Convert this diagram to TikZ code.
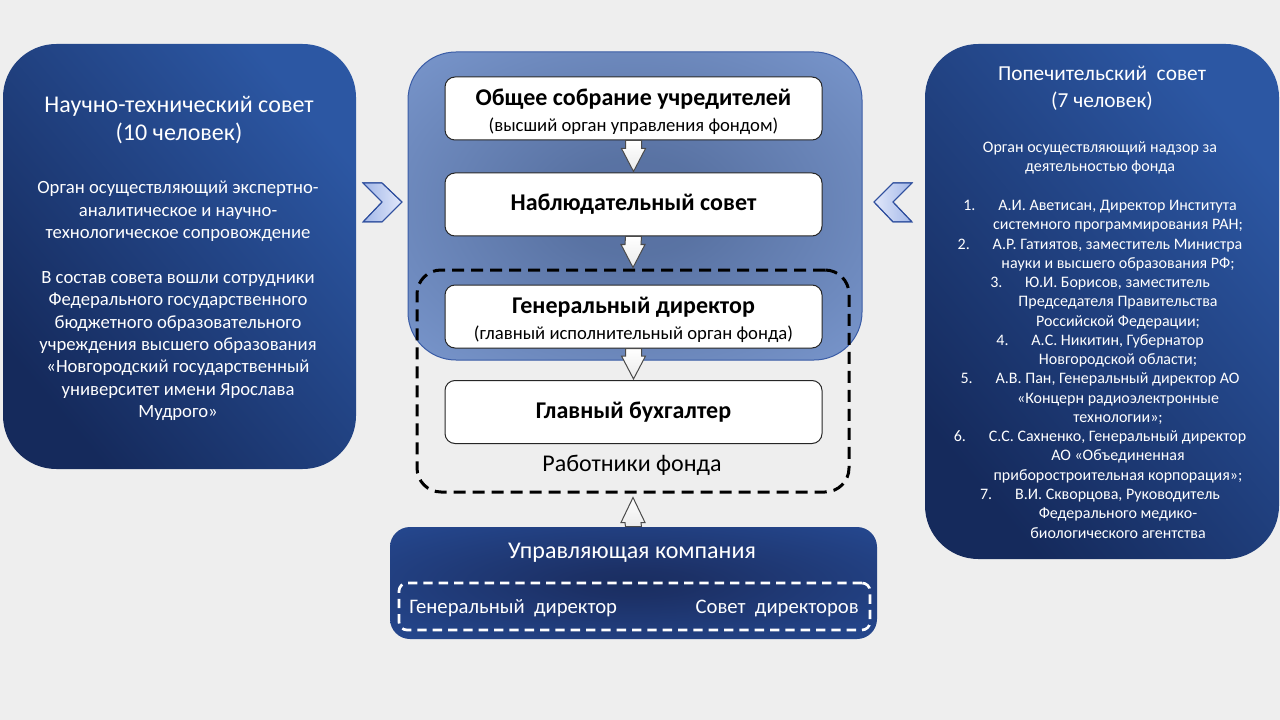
\documentclass[tikz,border=0pt]{standalone}
\usepackage{fontspec}
\setmainfont{Carlito}
\usetikzlibrary{calc}
\definecolor{bgc}{HTML}{EEEEEE}
\definecolor{sidelight}{HTML}{2C57A3}
\definecolor{sidedark}{HTML}{152A5C}
\definecolor{centeredge}{HTML}{3A5CA6}
\definecolor{chevfill}{HTML}{A2B7E8}
\definecolor{chevlight}{HTML}{E2E8FA}
\definecolor{chevline}{HTML}{2F4F9E}
\definecolor{arrline}{HTML}{4A4A4A}
\pgfdeclareradialshading{centerrad}{\pgfpoint{0bp}{0bp}}{rgb(0bp)=(0.34,0.44,0.63); rgb(8bp)=(0.35,0.45,0.64); rgb(46bp)=(0.52,0.64,0.86); rgb(72bp)=(0.55,0.67,0.89)}
\pgfdeclareradialshading{bottomrad}{\pgfpoint{0bp}{0bp}}{rgb(0bp)=(0.10,0.18,0.38); rgb(6bp)=(0.11,0.19,0.40); rgb(48bp)=(0.16,0.32,0.63); rgb(72bp)=(0.17,0.33,0.64)}
\newcommand\blockdown[2]{%
  \draw[blockarrow] ($(#1.south)+(-8,0)$) -- ($(#1.south)+(8,0)$) -- ($(#2.north)+(8,-24)$) -- ($(#2.north)+(12,-24)$) -- ($(#2.north)+(0,-1)$) -- ($(#2.north)+(-12,-24)$) -- ($(#2.north)+(-8,-24)$) -- cycle;}
\newcommand\blockup[2]{%
  \draw[blockarrow] ($(#1.north)+(-8,0)$) -- ($(#1.north)+(8,0)$) -- ($(#2.south)+(8,29)$) -- ($(#2.south)+(12,29)$) -- ($(#2.south)+(0,4)$) -- ($(#2.south)+(-12,29)$) -- ($(#2.south)+(-8,29)$) -- cycle;}
\begin{document}
\begin{tikzpicture}[x=0.75pt,y=-0.75pt,
  sidebox/.style={rectangle, rounded corners=40pt, shading=axis, bottom color=sidedark, top color=sidelight, shading angle=-50, inner sep=0pt},
  centerbox/.style={rectangle, rounded corners=36pt, shading=centerrad, draw=centeredge, line width=0.75pt, inner sep=0pt, minimum width=340.5pt, minimum height=231pt},
  whitebox/.style={rectangle, rounded corners=7.5pt, fill=white, draw=black!85, line width=0.75pt, minimum width=282.75pt, minimum height=47.25pt, align=center, inner sep=0pt, font=\fontsize{14pt}{19.5pt}\selectfont},
  btitle/.style={font=\fontsize{18pt}{21pt}\selectfont\bfseries},
  wtext/.style={text=white, align=center, inner sep=0pt},
  blockarrow/.style={draw=arrline, line width=0.75pt, top color=white, bottom color=black!8},
  chev/.style={draw=chevline, line width=0.75pt},
]
\useasboundingbox[fill=bgc] (0,0) rectangle (1280,720);

% side boxes
\node[sidebox, minimum width=264.75pt, minimum height=318.75pt] (ntc) at (179.5,256.5) {};
\node[sidebox, minimum width=265.5pt, minimum height=386.25pt] (ps) at (1102,301.5) {};

% left texts
\node[wtext, font=\fontsize{18pt}{21pt}\selectfont] (ntctitle) at (179,120) {Научно-технический совет\\(10 человек)};
\node[wtext, font=\fontsize{14pt}{16.8pt}\selectfont] (ntcbody) at (178,301) {Орган осуществляющий экспертно-\\аналитическое и научно-\\технологическое сопровождение\\[16.8pt]В состав совета вошли сотрудники\\Федерального государственного\\бюджетного образовательного\\учреждения высшего образования\\«Новгородский государственный\\университет имени Ярослава\\Мудрого»};

% right texts
\node[wtext, font=\fontsize{16pt}{20.25pt}\selectfont] (pstitle) at (1102,88.5) {Попечительский\ \ совет\\(7 человек)};
\node[wtext, font=\fontsize{12pt}{14.45pt}\selectfont] (psbody) at (1100,340) {Орган осуществляющий надзор за\\деятельностью фонда\\[14.45pt]%
\makebox[26.25pt][l]{1.}А.И. Аветисан, Директор Института\\
\hspace*{27pt}системного программирования РАН;\\
\makebox[26.25pt][l]{2.}А.Р. Гатиятов, заместитель Министра\\
\hspace*{27pt}науки и высшего образования РФ;\\
\makebox[26.25pt][l]{3.}Ю.И. Борисов, заместитель\\
\hspace*{27pt}Председателя Правительства\\
\hspace*{27pt}Российской Федерации;\\
\makebox[26.25pt][l]{4.}А.С. Никитин, Губернатор\\
\hspace*{27pt}Новгородской области;\\
\makebox[26.25pt][l]{5.}А.В. Пан, Генеральный директор АО\\
\hspace*{27pt}«Концерн радиоэлектронные\\
\hspace*{27pt}технологии»;\\
\makebox[26.25pt][l]{6.}С.С. Сахненко, Генеральный директор\\
\hspace*{27pt}АО «Объединенная\\
\hspace*{27pt}приборостроительная корпорация»;\\
\makebox[26.25pt][l]{7.}В.И. Скворцова, Руководитель\\
\hspace*{27pt}Федерального медико-\\
\hspace*{27pt}биологического агентства};

% center structure
\node[centerbox] (cb) at (635,206) {};
\node[whitebox] (osu) at (633.5,108.5) {{\fontsize{18pt}{19.5pt}\selectfont\bfseries\rule{0pt}{17pt}Общее собрание учредителей}\\(высший орган управления фондом)};
\node[whitebox, btitle] (ns) at (633.5,204.5) {Наблюдательный совет};
\node[whitebox] (gd) at (633.5,316.5) {{\fontsize{18pt}{19.5pt}\selectfont\bfseries\rule{0pt}{17pt}Генеральный директор}\\(главный исполнительный орган фонда)};
\node[whitebox, btitle] (gb) at (633.5,412) {Главный бухгалтер};
\node[rectangle, rounded corners=18pt, draw=black, line width=2.25pt, dash pattern=on 9pt off 5.25pt, minimum width=324pt, minimum height=166.5pt, inner sep=0pt] (wk) at (633,381) {};
\node[inner sep=0pt, font=\fontsize{18pt}{21pt}\selectfont] (wklabel) at (632,465) {Работники фонда};

% bottom box
\node[rectangle, rounded corners=15pt, shading=bottomrad, minimum width=365.25pt, minimum height=84pt, inner sep=0pt] (uk) at (633.5,583) {};
\node[wtext, font=\fontsize{18pt}{21pt}\selectfont] (uktitle) at (632,553) {Управляющая компания};
\node[rectangle, rounded corners=6pt, draw=white, line width=2pt, dash pattern=on 7pt off 4.5pt, minimum width=353.25pt, minimum height=35.25pt, inner sep=0pt] (ukin) at (634.5,606.5) {};
\node[wtext, anchor=west, font=\fontsize{15.5pt}{18pt}\selectfont] (ukgd) at (409,608) {Генеральный\ \ директор};
\node[wtext, anchor=east, font=\fontsize{15.5pt}{18pt}\selectfont] (uksd) at (859,608) {Совет\ \ директоров};

% block arrows
\blockdown{osu}{ns}
\blockdown{ns}{wk}
\blockdown{gd}{gb}
\blockup{uk}{wk}

% chevrons
\shade[chev, left color=chevfill, right color=chevlight] (363,183) -- (382,183) -- (402,202) -- (382,222) -- (363,222) -- (382,202) -- cycle;
\draw[chev] (363,183) -- (382,183) -- (402,202) -- (382,222) -- (363,222) -- (382,202) -- cycle;
\shade[chev, left color=chevlight, right color=chevfill] (912,183) -- (893,183) -- (874,202) -- (893,222) -- (912,222) -- (893,202) -- cycle;
\draw[chev] (912,183) -- (893,183) -- (874,202) -- (893,222) -- (912,222) -- (893,202) -- cycle;
\end{tikzpicture}
\end{document}
